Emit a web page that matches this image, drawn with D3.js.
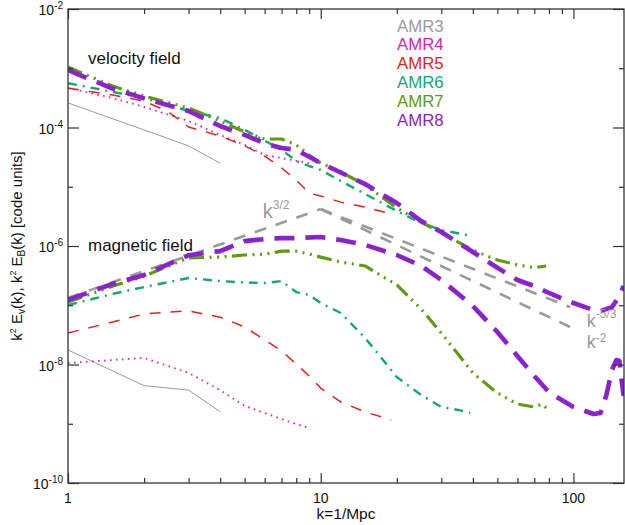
<!DOCTYPE html>
<html><head><meta charset="utf-8">
<script src="https://cdn.jsdelivr.net/npm/d3@7"></script>
<style>body{margin:0;background:#fff} text{font-family:"Liberation Sans",Arial,Helvetica,sans-serif}</style>
</head><body><svg id="c" width="625" height="525"></svg>
<script>
// ---------------- data ----------------
const amr3K = [1,2,3,4];
const amr3Vel = [2.6e-4,9.1e-5,4.9e-5,2.5e-5];
const amr3Mag = [1.76e-8,4.4e-9,3.7e-9,1.6e-9];

const amr4K = [1,1.5,2,3,4,5,6,7,8,9];
const amr4Vel = [4.65e-4,3.15e-4,2.22e-4,1.29e-4,7.5e-5,5.1e-5,3.44e-5,3.05e-5,2.72e-5,2.5e-5];
const amr4Mag = [1.06e-8,1.19e-8,1.29e-8,7.2e-9,3.7e-9,2.0e-9,1.52e-9,1.2e-9,9.9e-10,8.5e-10];

const amr5K = [1,1.5,2,2.5,3,4,5,6,7,8,9,10,12,15,19];
const amr5Vel = [4.6e-4,3.55e-4,2.8e-4,1.83e-4,1.02e-4,7.2e-5,4.9e-5,3.3e-5,2.07e-5,1.3e-5,7.8e-6,7.0e-6,5.5e-6,4.55e-6,3.47e-6];
const amr5Mag = [3.4e-8,5.2e-8,7.1e-8,7.7e-8,8.0e-8,6.3e-8,4.3e-8,2.6e-8,1.69e-8,1.02e-8,6.4e-9,4.0e-9,2.33e-9,1.58e-9,1.16e-9];

const amr6VelK = [1,1.5,2,3,4,5,6,7,8,9,10,12,15,20,25,30,38];
const amr6Vel = [5.6e-4,4.0e-4,3.15e-4,1.9e-4,1.45e-4,9.1e-5,6.0e-5,4.2e-5,2.72e-5,2.24e-5,1.92e-5,1.25e-5,7.55e-6,3.9e-6,2.44e-6,1.86e-6,1.53e-6];
const amr6MagK = [1,1.5,2,3,4,5,6,7,8,9,10,12,15,20,25,30,35,39];
const amr6Mag = [1.01e-7,1.55e-7,2.03e-7,2.88e-7,2.56e-7,2.42e-7,2.37e-7,2.56e-7,1.67e-7,1.49e-7,1.09e-7,7.4e-8,2.8e-8,6.15e-9,3.05e-9,1.92e-9,1.71e-9,1.52e-9];

const amr7VelK = [1,1.5,2,3,4,5,6,7,8,9,10,12,15,20,25,30,40,50,60,70,78];
const amr7Vel = [1.05e-3,5.0e-4,3.4e-4,2.13e-4,1.29e-4,8.4e-5,6.4e-5,6.4e-5,5.1e-5,3.4e-5,2.5e-5,1.78e-5,1.07e-5,4.4e-6,2.54e-6,1.66e-6,8.5e-7,5.8e-7,4.8e-7,4.3e-7,4.6e-7];
const amr7MagK = [1,1.5,2,3,4,5,6,7,8,9,10,12,15,20,25,30,40,50,60,70,75,78];
const amr7Mag = [1.13e-7,2.1e-7,3.1e-7,6.3e-7,6.5e-7,7.05e-7,7.3e-7,8.2e-7,8.2e-7,7.3e-7,6.5e-7,5.37e-7,4.6e-7,2.2e-7,8.6e-8,3.4e-8,7.2e-9,3.3e-9,2.15e-9,1.92e-9,2.15e-9,1.85e-9];

const amr8VelK = [1,1.5,2,3,4,5,6,7,8,9,10,12,15,20,25,30,40,50,60,70,80,100,120,128,142,150,158];
const amr8Vel = [9.3e-4,4.55e-4,3.1e-4,1.9e-4,1.06e-4,7.5e-5,5.4e-5,4.5e-5,4.2e-5,3.2e-5,2.5e-5,1.74e-5,1.11e-5,5.3e-6,2.64e-6,1.72e-6,7.9e-7,4.3e-7,2.67e-7,2.11e-7,1.61e-7,1.09e-7,8.3e-8,8.0e-8,9.3e-8,1.32e-7,2.11e-7];
const amr8MagK = [1,1.5,2,3,4,5,6,7,8,10,12,15,20,25,30,40,50,60,70,80,100,120,128,135,142,148,152,155,158];
const amr8Mag = [1.23e-7,2.29e-7,3.24e-7,7.0e-7,8.2e-7,1.21e-6,1.31e-6,1.36e-6,1.36e-6,1.42e-6,1.26e-6,1.04e-6,7.05e-7,4.6e-7,2.67e-7,9.7e-8,3.53e-8,1.39e-8,6.4e-9,3.4e-9,1.92e-9,1.46e-9,1.52e-9,3.05e-9,8.1e-9,1.19e-8,1.15e-8,5.5e-9,2.95e-9];

// reference power laws (end points)
const slope32K = [1,10];   const slope32V = [1.33e-7,4.2e-6];
const slope53K = [10,97];  const slope53V = [4.2e-6,9.3e-8];
const slope2K  = [10,97];  const slope2V  = [4.2e-6,4.3e-8];

const legendLabels = ["AMR3","AMR4","AMR5","AMR6","AMR7","AMR8"];
const xMajor = [1,10,100];
const xMinor = [2,3,4,5,6,7,8,9,20,30,40,50,60,70,80,90];
const yMajor = [1e-2,1e-4,1e-6,1e-8,1e-10];
const yMajorExp = ["-2","-4","-6","-8","-10"];
const yMinor = [1e-3,1e-5,1e-7,1e-9];

// ---------------- chart ----------------
const W=625,H=525,L=68,R=624,T=9,B=483;
const x=d3.scaleLog().domain([1,158.5]).range([L,R]);
const y=d3.scaleLog().domain([1e-10,1e-2]).range([B,T]);
const svg=d3.select("#c");
svg.append("rect").attr("width",W).attr("height",H).attr("fill","#fff");
svg.append("defs").append("clipPath").attr("id","clip").append("rect")
  .attr("x",L).attr("y",T).attr("width",R-L).attr("height",B-T);
const g=svg.append("g").attr("clip-path","url(#clip)");
const line=d3.line().x(d=>x(d[0])).y(d=>y(d[1]));
const zip=(k,v)=>k.map((kk,i)=>[kk,v[i]]);

const colors={AMR3:"#9a9a9a",AMR4:"#d624b4",AMR5:"#e2231a",AMR6:"#12a86e",AMR7:"#5e9b0f",AMR8:"#8a22d2",ref:"#9a9a9a"};
const styles={
  ref:{w:2.6,dash:"12,10"},
  AMR3:{w:1,dash:null},
  AMR4:{w:1.8,dash:"1.6,4.4"},
  AMR5:{w:1.5,dash:"11,10"},
  AMR6:{w:2.4,dash:"9,6,2,6"},
  AMR7:{w:3.2,dash:"15,5.5,2,5.5,2,5.5,2,5.5"},
  AMR8:{w:4.6,dash:"20,11"}
};
const series=[
  ["ref",slope32K,slope32V],["ref",slope53K,slope53V],["ref",slope2K,slope2V],
  ["AMR3",amr3K,amr3Vel],["AMR3",amr3K,amr3Mag],
  ["AMR4",amr4K,amr4Vel],["AMR4",amr4K,amr4Mag],
  ["AMR5",amr5K,amr5Vel],["AMR5",amr5K,amr5Mag],
  ["AMR6",amr6VelK,amr6Vel],["AMR6",amr6MagK,amr6Mag],
  ["AMR7",amr7VelK,amr7Vel],["AMR7",amr7MagK,amr7Mag],
  ["AMR8",amr8VelK,amr8Vel],["AMR8",amr8MagK,amr8Mag]
];
series.forEach(([name,k,v])=>{
  const st=styles[name];
  g.append("path").datum(zip(k,v)).attr("d",line)
    .attr("fill","none").attr("stroke",colors[name]).attr("stroke-width",st.w)
    .attr("stroke-dasharray",st.dash).attr("stroke-linecap","butt").attr("stroke-linejoin","round");
});

// axes (inward ticks)
function ax(gen,tr,vals,size){
  const a=svg.append("g").attr("transform",tr).call(gen.tickValues(vals).tickSize(-size).tickFormat(""));
  a.select(".domain").remove();
  a.selectAll("line").attr("stroke","#333").attr("stroke-width",1.2);
}
ax(d3.axisBottom(x),`translate(0,${B})`,xMajor,10);
ax(d3.axisBottom(x),`translate(0,${B})`,xMinor,5);
ax(d3.axisTop(x),`translate(0,${T})`,xMajor,10);
ax(d3.axisTop(x),`translate(0,${T})`,xMinor,5);
ax(d3.axisLeft(y),`translate(${L},0)`,yMajor,11);
ax(d3.axisLeft(y),`translate(${L},0)`,yMinor,5);
ax(d3.axisRight(y),`translate(${R},0)`,yMajor,11);
ax(d3.axisRight(y),`translate(${R},0)`,yMinor,5);
svg.append("rect").attr("x",L).attr("y",T).attr("width",R-L).attr("height",B-T)
  .attr("fill","none").attr("stroke","#333").attr("stroke-width",1.3);

// tick labels
yMajor.forEach((t,i)=>{
  const tx=svg.append("text").attr("x",63).attr("y",y(t)+6).attr("text-anchor","end")
    .attr("font-size",14).attr("fill","#111");
  tx.append("tspan").text("10");
  tx.append("tspan").attr("dy",-6).attr("font-size",10).text(yMajorExp[i]);
});
xMajor.forEach(t=>{
  svg.append("text").attr("x",x(t)).attr("y",503).attr("text-anchor","middle")
    .attr("font-size",14).attr("fill","#111").text(String(t));
});
svg.append("text").attr("x",(L+R)/2).attr("y",519).attr("text-anchor","middle")
  .attr("font-size",15.5).attr("fill","#111").text("k=1/Mpc");

// y label
const yl=svg.append("text").attr("transform",`translate(22,${(T+B)/2}) rotate(-90)`)
  .attr("text-anchor","middle").attr("font-size",15).attr("fill","#111");
yl.append("tspan").text("k");
yl.append("tspan").attr("dy",-6).attr("font-size",9).text("2");
yl.append("tspan").attr("dy",6).text(" E");
yl.append("tspan").attr("dy",3).attr("font-size",10).text("v");
yl.append("tspan").attr("dy",-3).text("(k), k");
yl.append("tspan").attr("dy",-6).attr("font-size",9).text("2");
yl.append("tspan").attr("dy",6).text(" E");
yl.append("tspan").attr("dy",3).attr("font-size",10).text("B");
yl.append("tspan").attr("dy",-3).text("(k) [code units]");

// annotations
svg.append("text").attr("x",88).attr("y",64).attr("font-size",17).attr("fill","#111").text("velocity field");
svg.append("text").attr("x",88).attr("y",251).attr("font-size",17).attr("fill","#111").text("magnetic field");

function powLabel(px,py,exp,fs,sup){
  const t=svg.append("text").attr("x",px).attr("y",py).attr("font-size",fs).attr("fill",colors.ref);
  t.append("tspan").text("k");
  t.append("tspan").attr("dy",sup).attr("font-size",12).text(exp);
}
powLabel(x(5.9),218,"3/2",20,-9);
powLabel(x(113),327,"-5/3",18,-9);
powLabel(x(113),348,"-2",18,-6);

// legend
legendLabels.forEach((lab,i)=>{
  svg.append("text").attr("x",397).attr("y",31.5+i*18.8).attr("font-size",16.8)
    .attr("fill",colors[lab]).text(lab);
});
</script></body></html>
